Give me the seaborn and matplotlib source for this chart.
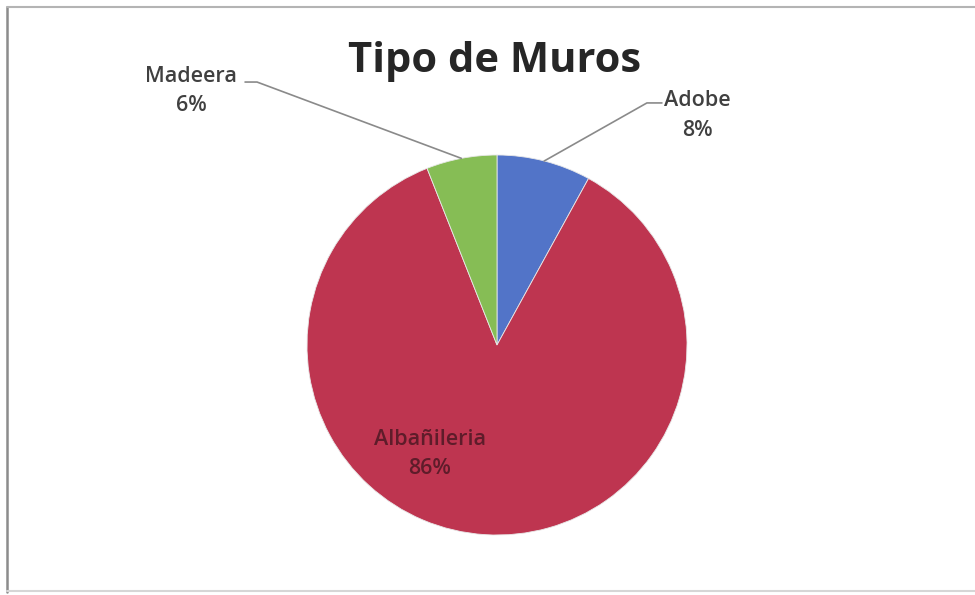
"""
Tipo de Muros - pie chart
"""
import numpy as np
import seaborn as sns
import matplotlib.pyplot as plt
from matplotlib.lines import Line2D

# data
categorias = ['Adobe', 'Albañileria', 'Madeera']
valores = [8, 86, 6]
colores = ['#5274C8', '#BE3550', '#86BD55']

sns.set_theme(style='white')
plt.rcParams['font.family'] = ['Open Sans', 'DejaVu Sans']

fig = plt.figure(figsize=(9.75, 5.95), dpi=100)
# pie axes: centre ~ (497, 345) px, radius ~190 px
ax = fig.add_axes([307 / 975, 60 / 595, 380 / 975, 380 / 595])

paleta = sns.color_palette(colores)
wedges, _ = ax.pie(valores, colors=paleta, startangle=90, counterclock=False,
                   wedgeprops=dict(linewidth=0.6, edgecolor='#e8e8e8'))
ax.set_xlim(-1, 1)
ax.set_ylim(-1, 1)
ax.set_aspect('equal')
ax.axis('off')

total = sum(valores)
pct = [f'{round(v / total * 100)}%' for v in valores]


def mid_point(w, r=1.0):
    ang = np.deg2rad((w.theta1 + w.theta2) / 2)
    return r * np.cos(ang), r * np.sin(ang)


etiqueta = dict(ha='center', va='center', fontsize=15.5, fontweight='semibold',
                linespacing=1.55, clip_on=False)

# Adobe (outside, right)
px, py = mid_point(wedges[0])
ax.plot([px, 0.789, 0.868], [py, 1.274, 1.274], color='#8a8a8a', lw=1.2,
        clip_on=False)
ax.text(1.055, 1.21, f'{categorias[0]}\n{pct[0]}', color='#404040', **etiqueta)

# Madeera (outside, left)
px, py = mid_point(wedges[2])
ax.plot([px, -1.263, -1.326], [py, 1.384, 1.384], color='#8a8a8a', lw=1.2,
        clip_on=False)
ax.text(-1.61, 1.337, f'{categorias[2]}\n{pct[2]}', color='#404040',
        **etiqueta)

# Albañileria (inside)
ax.text(-0.353, -0.574, f'{categorias[1]}\n{pct[1]}', color='#5e1c2a',
        **etiqueta)

fig.text(495 / 975, 1 - 62 / 595, 'Tipo de Muros', ha='center', va='center',
         fontsize=30, fontweight='bold', color='#262626')

# frame (left, top, bottom)
def px_line(x0, y0, x1, y1, color, lw):
    fig.lines.append(Line2D([x0 / 975, x1 / 975], [1 - y0 / 595, 1 - y1 / 595],
                            transform=fig.transFigure, color=color, lw=lw))


px_line(7, 7, 7, 592, '#8c8c8c', 1.8)
px_line(7, 7, 975, 7, '#b4b4b4', 1.5)
px_line(7, 591, 975, 591, '#d6d6d6', 1.5)

fig.savefig('out.png', dpi=100, facecolor='white')
